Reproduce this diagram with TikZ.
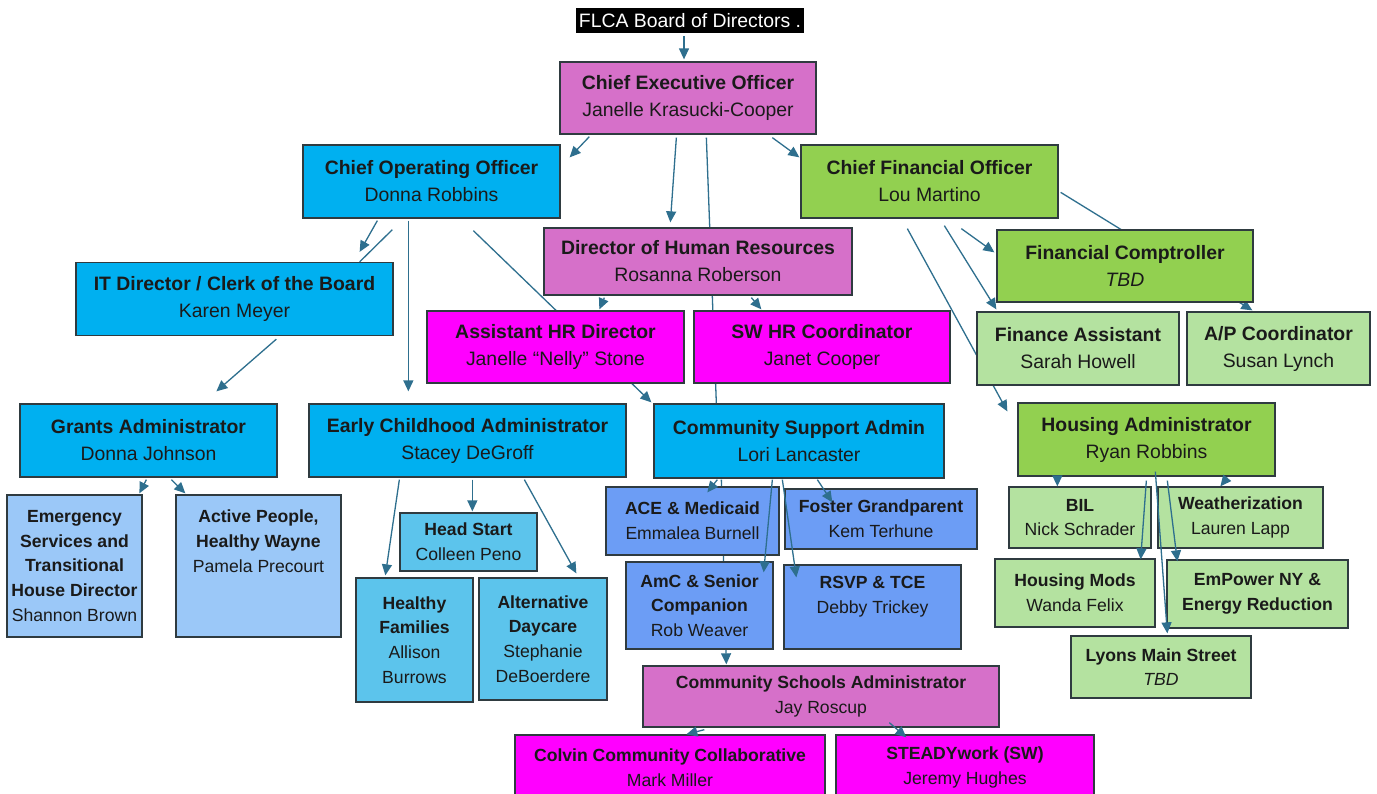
\documentclass[tikz,border=0pt]{standalone}
\usepackage{fontspec}
\setmainfont{Liberation Sans}
\usetikzlibrary{arrows.meta}
\pgfdeclarelayer{bg}
\pgfsetlayers{bg,main}
\definecolor{orchidc}{HTML}{D670C9}
\definecolor{magc}{HTML}{FF00FF}
\definecolor{cooc}{HTML}{00B0F0}
\definecolor{greenc}{HTML}{92D050}
\definecolor{lgreenc}{HTML}{B4E2A0}
\definecolor{lbluec}{HTML}{9BC8F8}
\definecolor{mbluec}{HTML}{6C9DF5}
\definecolor{skyc}{HTML}{5CC4EC}
\definecolor{bordc}{HTML}{2F3B40}
\definecolor{txtc}{HTML}{1A1A1A}
\definecolor{linec}{HTML}{2E6F8E}
\newcommand\bigf{\fontsize{19.4pt}{27pt}\selectfont}
\newcommand\smf{\fontsize{17.6pt}{24.7pt}\selectfont}
\begin{document}
\begin{tikzpicture}[x=1pt,y=-1pt,
  orgbox/.style={draw=bordc, line width=1.3pt, inner sep=0pt, align=center, text=txtc, font=\bigf},
  smallbox/.style={orgbox, font=\smf},
  conn/.style={draw=linec, line width=1.3pt},
  arr/.style={conn, -{Triangle[length=11pt,width=10pt]}}
]
\useasboundingbox (0,0) rectangle (1377,793);

% ---- boxes ----
\node[fill=black, text=white, inner sep=0pt, minimum width=228pt, minimum height=25pt, font=\bigf] (board) at (690,20.5) {FLCA Board of Directors .};
\node[orgbox, fill=orchidc, minimum width=256pt, minimum height=72pt] (ceo) at (688,98) {\textbf{Chief Executive Officer}\\Janelle Krasucki-Cooper};
\node[orgbox, fill=cooc, minimum width=257pt, minimum height=73pt] (coo) at (431.5,181.5) {\textbf{Chief Operating Officer}\\Donna Robbins};
\node[orgbox, fill=greenc, minimum width=257pt, minimum height=73pt] (cfo) at (929.5,181.5) {\textbf{Chief Financial Officer}\\Lou Martino};
\node[orgbox, fill=orchidc, minimum width=308pt, minimum height=67pt] (dhr) at (698,261.5) {\textbf{Director of Human Resources}\\Rosanna Roberson};
\node[orgbox, fill=cooc, minimum width=317pt, minimum height=73pt] (it) at (234.5,299) {\textbf{IT Director / Clerk of the Board}\\Karen Meyer};
\node[orgbox, fill=greenc, minimum width=256pt, minimum height=72pt] (fc) at (1125,266) {\textbf{Financial Comptroller}\\\textit{TBD}};
\node[orgbox, fill=magc, minimum width=257pt, minimum height=72pt] (ahr) at (555.5,347) {\textbf{Assistant HR Director}\\Janelle ``Nelly'' Stone};
\node[orgbox, fill=magc, minimum width=256pt, minimum height=72pt] (swhr) at (822,347) {\textbf{SW HR Coordinator}\\Janet Cooper};
\node[orgbox, fill=lgreenc, minimum width=202pt, minimum height=73pt] (fa) at (1078,348.5) {\textbf{Finance Assistant}\\Sarah Howell};
\node[orgbox, fill=lgreenc, minimum width=183pt, minimum height=73pt] (apc) at (1278.5,348.5) {\textbf{A/P Coordinator}\\Susan Lynch};
\node[orgbox, fill=cooc, minimum width=257pt, minimum height=73pt] (grants) at (148.5,440.5) {\textbf{Grants Administrator}\\Donna Johnson};
\node[orgbox, fill=cooc, minimum width=317pt, minimum height=73pt] (eca) at (467.5,440.5) {\textbf{Early Childhood Administrator}\\Stacey DeGroff};
\node[orgbox, fill=cooc, minimum width=290pt, minimum height=74pt] (csa) at (799,441) {\textbf{Community Support Admin}\\Lori Lancaster};
\node[orgbox, fill=greenc, minimum width=257pt, minimum height=73pt] (ha) at (1146.5,439.5) {\textbf{Housing Administrator}\\Ryan Robbins};
\node[smallbox, fill=lbluec, minimum width=135pt, minimum height=142pt] (es) at (74.5,566) {\textbf{Emergency}\\\textbf{Services and}\\\textbf{Transitional}\\\textbf{House Director}\\Shannon Brown};
\node[smallbox, fill=lbluec, minimum width=165pt, minimum height=142pt] (apw) at (258.5,566) {\textbf{Active People,}\\\textbf{Healthy Wayne}\\Pamela Precourt\\\mbox{}\\\mbox{}};
\node[smallbox, fill=mbluec, minimum width=173pt, minimum height=68pt] (ace) at (692.5,521) {\textbf{ACE \& Medicaid}\\Emmalea Burnell};
\node[smallbox, fill=mbluec, minimum width=192pt, minimum height=60pt] (fg) at (881,519) {\textbf{Foster Grandparent}\\Kem Terhune};
\node[smallbox, fill=skyc, minimum width=137pt, minimum height=58pt] (hs) at (468.5,542) {\textbf{Head Start}\\Colleen Peno};
\node[smallbox, fill=skyc, minimum width=117pt, minimum height=124pt] (hf) at (414.5,640) {\textbf{Healthy}\\\textbf{Families}\\Allison\\Burrows};
\node[smallbox, fill=skyc, minimum width=128pt, minimum height=122pt] (ad) at (543,639) {\textbf{Alternative}\\\textbf{Daycare}\\Stephanie\\DeBoerdere};
\node[smallbox, fill=mbluec, minimum width=147pt, minimum height=87pt] (amc) at (699.5,605.5) {\textbf{AmC \& Senior}\\\textbf{Companion}\\Rob Weaver};
\node[smallbox, fill=mbluec, minimum width=177pt, minimum height=84pt] (rsvp) at (872.5,607) {\textbf{RSVP \& TCE}\\Debby Trickey\\\mbox{}};
\node[smallbox, fill=lgreenc, minimum width=142pt, minimum height=61pt] (bil) at (1080,517.5) {\textbf{BIL}\\Nick Schrader};
\node[smallbox, fill=lgreenc, minimum width=165pt, minimum height=61pt] (wz) at (1240.5,517.5) {\textbf{Weatherization}\\Lauren Lapp};
\node[smallbox, fill=lgreenc, minimum width=160pt, minimum height=68pt] (hm) at (1075,593) {\textbf{Housing Mods}\\Wanda Felix};
\node[smallbox, fill=lgreenc, minimum width=181pt, minimum height=68pt] (emp) at (1257.5,594) {\textbf{EmPower NY \&}\\\textbf{Energy Reduction}};
\node[smallbox, fill=lgreenc, minimum width=180pt, minimum height=62pt] (lms) at (1161,667) {\textbf{Lyons Main Street}\\\textit{TBD}};
\node[smallbox, fill=orchidc, minimum width=356pt, minimum height=61pt] (csch) at (821,696.5) {\textbf{Community Schools Administrator}\\Jay Roscup};
\node[smallbox, fill=magc, minimum width=310pt, minimum height=65pt] (colvin) at (670,767.5) {\textbf{Colvin Community Collaborative}\\Mark Miller};
\node[smallbox, fill=magc, minimum width=258pt, minimum height=65pt] (steady) at (965,767.5) {\textbf{STEADYwork (SW)}\\Jeremy Hughes};

% ---- connectors behind the boxes ----
\begin{pgfonlayer}{bg}
\fill[white] (0,0) rectangle (1377,793);
\draw[conn] ([shift={(147,3)}]ceo.south west) -- ([shift={(63,0)}]csa.north west);
\draw[arr] ([shift={(171,12)}]coo.south west) -- ([shift={(-2,-1)}]csa.north west);
\draw[arr] ([shift={(107,10)}]cfo.south west) -- ([shift={(-10,9)}]ha.north west);
\draw[arr] ([shift={(2,48)}]cfo.north east) -- ([shift={(66,-1)}]apc.north west);
\draw[arr] ([shift={(68,1)}]csa.south west) -- ([shift={(84,-1)}]csch.north west);
\end{pgfonlayer}

% ---- connectors on top ----
\draw[arr] ([shift={(-6,3)}]board.south) -- ([shift={(-4,-2)}]ceo.north);
\draw[arr] ([shift={(30,2)}]ceo.south west) -- ([shift={(9,13)}]coo.north east);
\draw[arr] ([shift={(117,3)}]ceo.south west) -- ([shift={(127,-5)}]dhr.north west);
\draw[arr] ([shift={(213,3)}]ceo.south west) -- ([shift={(-1,13)}]cfo.north west);
\draw[arr] ([shift={(75,2)}]coo.south west) -- ([shift={(-34,-10)}]it.north east);
\draw[conn] ([shift={(90,11)}]coo.south west) -- ([shift={(-34,0)}]it.north east);
\draw[arr] ([shift={(106,2)}]coo.south west) -- ([shift={(100,-12)}]eca.north west);
\draw[arr] ([shift={(61,2)}]dhr.south west) -- ([shift={(173,-1)}]ahr.north west);
\draw[arr] ([shift={(208,2)}]dhr.south west) -- ([shift={(68,-1)}]swhr.north west);
\draw[arr] ([shift={(161,10)}]cfo.south west) -- ([shift={(-2,23)}]fc.north west);
\draw[arr] ([shift={(144,7)}]cfo.south west) -- ([shift={(20,-2)}]fa.north west);
\draw[arr] ([shift={(201,3)}]it.south west) -- ([shift={(197,-12)}]grants.north west);
\draw[arr] ([shift={(127,2)}]grants.south west) -- ([shift={(133,-1)}]es.north west);
\draw[arr] ([shift={(152,2)}]grants.south west) -- ([shift={(10,-1)}]apw.north west);
\draw[arr] ([shift={(91,2)}]eca.south west) -- ([shift={(30,-2)}]hf.north west);
\draw[arr] ([shift={(164,2)}]eca.south west) -- ([shift={(73,-1)}]hs.north west);
\draw[arr] ([shift={(216,2)}]eca.south west) -- ([shift={(98,-4)}]ad.north west);
\draw[arr] ([shift={(64,1)}]csa.south west) -- ([shift={(102,6)}]ace.north west);
\draw[arr] ([shift={(119,1)}]csa.south west) -- ([shift={(-10,11)}]amc.north east);
\draw[arr] ([shift={(129,1)}]csa.south west) -- ([shift={(13,13)}]rsvp.north west);
\draw[arr] ([shift={(164,1)}]csa.south west) -- ([shift={(48,14)}]fg.north west);
\draw[arr] ([shift={(40,1)}]ha.south west) -- ([shift={(49,0)}]bil.north west);
\draw[arr] ([shift={(210,1)}]ha.south west) -- ([shift={(63,0)}]wz.north west);
\draw[arr] ([shift={(129,4)}]ha.south west) -- ([shift={(-15,1)}]hm.north east);
\draw[arr] ([shift={(150,4)}]ha.south west) -- ([shift={(11,2)}]emp.north west);
\draw[arr] ([shift={(138,-5)}]ha.south west) -- ([shift={(97,-2)}]lms.north west);
\draw[arr] ([shift={(62,2)}]csch.south west) -- ([shift={(172,0)}]colvin.north west);
\draw[arr] ([shift={(247,-5)}]csch.south west) -- ([shift={(71,3)}]steady.north west);
\end{tikzpicture}
\end{document}
